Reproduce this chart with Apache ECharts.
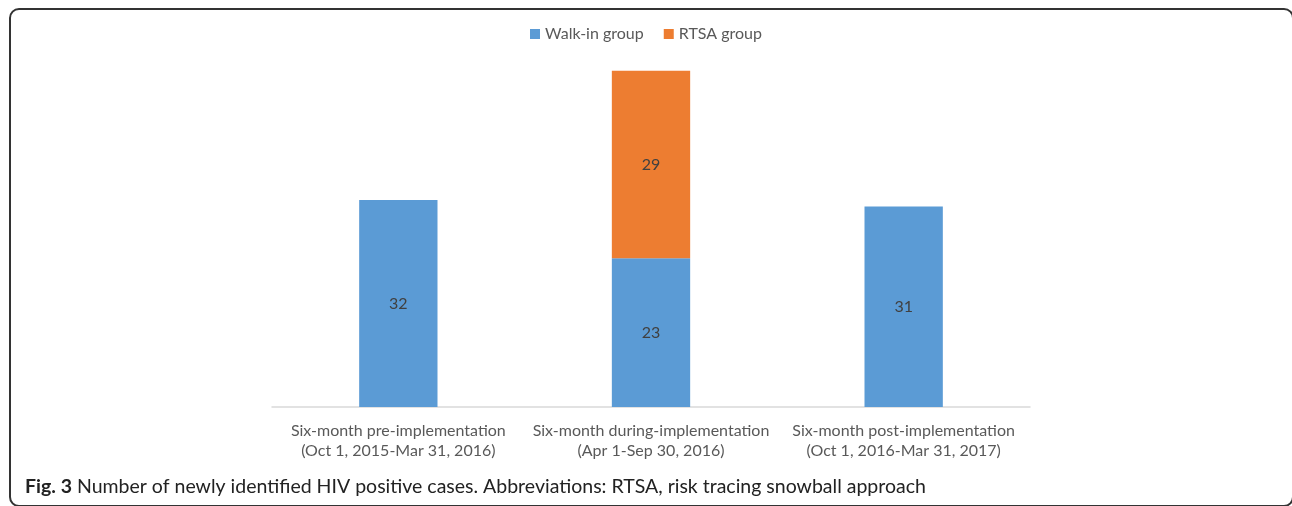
<!doctype html>
<html>
<head>
  <meta charset="utf-8">
  <title>Newly identified HIV positive cases</title>
  <script src="https://cdn.jsdelivr.net/npm/echarts@6/dist/echarts.min.js"></script>
  <style>
    html, body { margin: 0; padding: 0; background: #fff; }
    #wrap { position: relative; width: 1292px; height: 506px; overflow: hidden; }
    #frame {
      position: absolute; left: 9px; top: 8px; width: 1285px; height: 499px;
      border: 2px solid #333; border-radius: 10px; box-sizing: border-box;
    }
    #chart { position: absolute; left: 0; top: 0; width: 1292px; height: 506px; }
  </style>
</head>
<body>
<div id="wrap">
  <div id="frame"></div>
  <div id="chart"></div>
</div>
<script type="text/javascript">
  // periods
  var categories = [
    'Six-month pre-implementation\n(Oct 1, 2015-Mar 31, 2016)',
    'Six-month during-implementation\n(Apr 1-Sep 30, 2016)',
    'Six-month post-implementation\n(Oct 1, 2016-Mar 31, 2017)'
  ];
  var walkIn = [32, 23, 31];
  var rtsa = ['-', 29, '-'];

  var chart = echarts.init(document.getElementById('chart'));

  var option = {
    animation: false,
    textStyle: { fontFamily: 'Lato' },
    title: {
      left: 20,
      top: 472,
      text: '{b|Fig. 3} Number of newly identified HIV positive cases. Abbreviations: RTSA, risk tracing snowball approach',
      textStyle: {
        fontFamily: 'Lato',
        fontSize: 19.5,
        fontWeight: 'normal',
        color: '#222',
        rich: {
          b: { fontFamily: 'Lato', fontSize: 19.5, fontWeight: 'bold', color: '#222' }
        }
      }
    },
    legend: {
      top: 21,
      left: 'center',
      itemWidth: 10,
      itemHeight: 10,
      itemGap: 20,
      icon: 'rect',
      textStyle: { color: '#595959', fontSize: 16, fontFamily: 'Lato' },
      data: ['Walk-in group', 'RTSA group']
    },
    grid: { left: 272, right: 262, top: 19, bottom: 99 },
    xAxis: {
      type: 'category',
      data: categories,
      axisLine: { lineStyle: { color: '#d9d9d9', width: 1.5 } },
      axisTick: { show: false },
      axisLabel: {
        color: '#595959',
        fontSize: 16,
        lineHeight: 20,
        margin: 14,
        interval: 0
      }
    },
    yAxis: {
      type: 'value',
      min: 0,
      max: 60,
      show: false,
      splitLine: { show: false }
    },
    series: [
      {
        name: 'Walk-in group',
        type: 'bar',
        stack: 'total',
        barWidth: '31%',
        itemStyle: { color: '#5B9BD5' },
        label: { show: true, position: 'inside', color: '#404040', fontSize: 16 },
        data: walkIn
      },
      {
        name: 'RTSA group',
        type: 'bar',
        stack: 'total',
        barWidth: '31%',
        itemStyle: { color: '#ED7D31' },
        label: { show: true, position: 'inside', color: '#404040', fontSize: 16 },
        data: rtsa
      }
    ]
  };
  chart.setOption(option);
</script>
</body>
</html>
